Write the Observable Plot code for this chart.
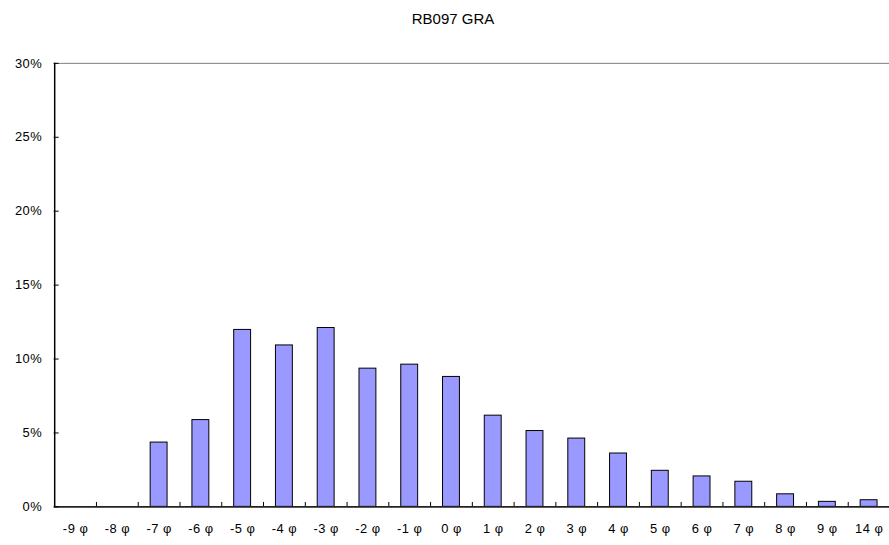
<!DOCTYPE html>
<html>
<head>
<meta charset="utf-8">
<script src="https://cdn.jsdelivr.net/npm/d3@7"></script>
<script src="https://cdn.jsdelivr.net/npm/@observablehq/plot@0.6"></script>
<style>
  html, body { margin: 0; padding: 0; background: #fff; overflow: hidden; }
  body { width: 889px; height: 545px; position: relative; font-family: "Liberation Sans", Arial, sans-serif; }
  #title { position: absolute; left: 453px; top: 11px; transform: translateX(-50%); white-space: nowrap; font-size: 15px; line-height: 15px; color: #000; }
  #spacer { height: 40px; }
</style>
</head>
<body>
<div id="title"></div>
<div id="spacer"></div>
<div id="chart"></div>
<script>
const title = "RB097 GRA";
const categories = ["-9 φ","-8 φ","-7 φ","-6 φ","-5 φ","-4 φ","-3 φ","-2 φ","-1 φ","0 φ","1 φ","2 φ","3 φ","4 φ","5 φ","6 φ","7 φ","8 φ","9 φ","14 φ"];
const values = [0, 0, 4.35, 5.87, 11.97, 10.92, 12.1, 9.35, 9.62, 8.79, 6.17, 5.13, 4.62, 3.61, 2.44, 2.06, 1.70, 0.85, 0.34, 0.45];
const yTicks = [0, 5, 10, 15, 20, 25, 30];

document.getElementById("title").textContent = title;
const data = categories.map((c, i) => ({cat: c, v: values[i]}));

const W = 894, H = 505, mL = 54, mR = 0, mT = 23, mB = 36;
const step = (W - mL - mR) / categories.length;

const chart = Plot.plot({
  width: W, height: H,
  marginLeft: mL, marginRight: mR, marginTop: mT, marginBottom: mB,
  style: {fontFamily: "Liberation Sans, Arial, sans-serif", fontSize: "13px", color: "#000", background: "#fff", letterSpacing: "0.5px"},
  x: {type: "band", domain: categories, paddingInner: 0.6, paddingOuter: 0.3, align: 0.5, label: null},
  y: {domain: [0, 30], label: null},
  marks: [
    Plot.ruleY([30], {stroke: "#808080", strokeWidth: 1}),
    Plot.barY(data, {x: "cat", y: "v", fill: "#9999FF", stroke: "#000", strokeWidth: 1}),
    Plot.ruleX(categories.slice(1), {x: d => d, dx: -step / 2, y1: 0, y2: 0.3, stroke: "#000"}),
    Plot.ruleY([0], {stroke: "#222", strokeWidth: 2}),
    Plot.ruleX(categories.slice(0, 1), {x: d => d, dx: -step / 2, y1: 0, y2: 30, stroke: "#000", strokeWidth: 1.5}),
    Plot.axisY(yTicks, {tickSize: -5, tickPadding: 17, tickFormat: d => d + "%", fontSize: 13}),
    Plot.axisX({tickSize: 0, tickPadding: 17, fontSize: 13})
  ]
});
document.getElementById("chart").appendChild(chart);
</script>
</body>
</html>
